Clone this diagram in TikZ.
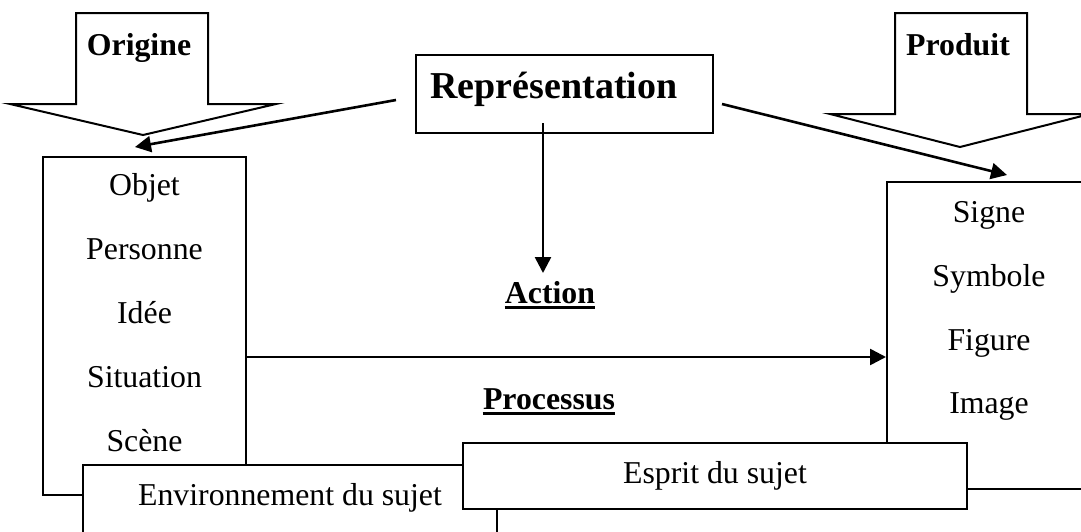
\documentclass[tikz,border=0pt]{standalone}
\usepackage{fontspec}
\setmainfont{Liberation Serif}
\usetikzlibrary{arrows.meta,fit}
\begin{document}
\begin{tikzpicture}[x=0.5pt,y=-0.5pt,
  frame/.style={draw,fill=white,line width=1pt,inner sep=0pt},
  bigarrow/.style={draw,fill=white,line width=1pt,line join=miter},
  txt/.style={inner sep=0pt,anchor=base,font=\fontsize{15.9}{19}\selectfont},
  btxt/.style={txt,font=\fontsize{15.9}{19}\selectfont\bfseries},
  conn/.style={line width=1.3pt,-{Triangle[length=8pt,width=8pt]}},
  ul/.style={line width=1.5pt}]
\useasboundingbox (0,0) rectangle (1081,531);
\clip (0,0) rectangle (1081,531);

% block arrow: origin
\draw[bigarrow] (76,13) -- (208,13) -- (208,104) -- (276,104) -- (143,135)
  -- (10,104) -- (76,104) -- cycle;
\node[btxt] (origine) at (139,55) {Origine};

% block arrow: product
\draw[bigarrow] (895,13) -- (1027,13) -- (1027,114) -- (1090,114) -- (960,147)
  -- (830,114) -- (895,114) -- cycle;
\node[btxt] (produit) at (958,55) {Produit};

% central box
\node[frame, fit={(416,55) (713,133)}] (repbox) {};
\node[txt, font=\fontsize{19}{23}\selectfont\bfseries] (rep) at (554,98) {Représentation};

% origin box
\node[frame, fit={(43,157) (246,495)}] (origbox) {};
\foreach \t/\y [count=\i] in {Objet/195, Personne/259, Idée/323, Situation/387, Scène/451}
  \node[txt] (o\i) at (144.5,\y) {\t};

% product box
\node[frame, fit={(887,182) (1095,489)}] (prodbox) {};
\foreach \t/\y [count=\i] in {Signe/222, Symbole/286, Figure/350, Image/413}
  \node[txt] (p\i) at (989,\y) {\t};

% connectors
\coordinate (repL) at (396,100);
\coordinate (origTip) at (135,147);
\coordinate (repR) at (722,104);
\coordinate (prodTip) at (1007,175);
\coordinate (repD) at (543,123);
\coordinate (actTip) at (543,273);
\draw[conn] (repL) -- (origTip);
\draw[conn] (repR) -- (prodTip);
\draw[conn] (repD) -- (actTip);
\draw[conn] (origbox.east |- 0,357) -- (prodbox.west |- 0,357);

% middle labels
\node[btxt] (action) at (550,303) {Action};
\draw[ul] ([yshift=-2.25pt]action.base west) -- ([yshift=-2.25pt]action.base east);
\node[btxt] (processus) at (549,409) {Processus};
\draw[ul] ([yshift=-2.25pt]processus.base west) -- ([yshift=-2.25pt]processus.base east);

% subject boxes
\node[frame, fit={(83,465) (497,560)}] (envbox) {};
\node[txt] (env) at (290,505) {Environnement du sujet};
\node[frame, fit={(463,443) (967,509)}] (espbox) {};
\node[txt] (esp) at (715,483) {Esprit du sujet};
\end{tikzpicture}
\end{document}
